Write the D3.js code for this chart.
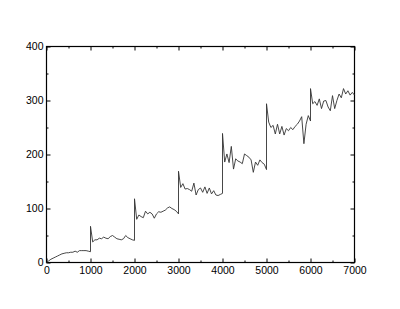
<!DOCTYPE html>
<html>
<head>
<meta charset="utf-8">
<script src="https://cdn.jsdelivr.net/npm/d3@7"></script>
<style>
  body { margin: 0; background: #fff; }
  svg { display: block; }
  .axis text { font-family: "Liberation Sans", Arial, sans-serif; font-size: 10.5px; fill: #000; }
  .axis line { stroke: #000; }
</style>
</head>
<body>
<script>
// values, one array per 1000-wide step (x = start, start+50, ..., start+1000)
var stepWidth = 50
var seg0 = [0, 3, 6, 8, 10, 12, 14, 16, 17, 18, 18, 19, 19, 21, 19, 22, 22, 22, 22, 21, 20]
var seg1 = [67, 38, 42, 42, 45, 44, 47, 45, 44, 48, 50, 47, 44, 43, 42, 44, 50, 46, 44, 42, 41]
var seg2 = [118, 80, 88, 85, 83, 95, 90, 93, 90, 82, 90, 94, 93, 95, 97, 101, 103, 100, 98, 95, 90]
var seg3 = [169, 139, 146, 136, 137, 135, 132, 147, 125, 135, 138, 130, 140, 128, 138, 127, 133, 125, 124, 126, 128]
var seg4 = [239, 186, 201, 185, 215, 173, 192, 188, 186, 183, 201, 198, 195, 190, 167, 186, 180, 190, 185, 182, 172]
var seg5 = [294, 260, 250, 254, 238, 256, 238, 252, 236, 248, 244, 250, 246, 252, 256, 262, 270, 220, 256, 272, 262]
var seg6 = [322, 294, 298, 291, 303, 285, 299, 300, 288, 281, 309, 285, 300, 312, 305, 322, 312, 318, 310, 315, 310]
var segments = [seg0, seg1, seg2, seg3, seg4, seg5, seg6]

var xTicks = [0, 1000, 2000, 3000, 4000, 5000, 6000, 7000]
var yTicks = [0, 100, 200, 300, 400]
var xMinor = [500, 1500, 2500, 3500, 4500, 5500, 6500]
var yMinor = [50, 150, 250, 350]

// flatten segments into points; the jump sits at the shared x
var points = []
segments.forEach(function(seg, k) {
  seg.forEach(function(v, i) {
    points.push({ x: k * 1000 + i * stepWidth, y: v })
  })
})

var margin = { top: 46.5, right: 45.5, bottom: 46.5, left: 46.5 },
  width = 400 - margin.left - margin.right,
  height = 309 - margin.top - margin.bottom

var svg = d3.select("body").append("svg")
  .attr("width", 400)
  .attr("height", 309)
  .append("g")
  .attr("transform", "translate(" + margin.left + "," + margin.top + ")")

var x = d3.scaleLinear().domain([0, 7000]).range([0, width])
var y = d3.scaleLinear().domain([0, 400]).range([height, 0])

// inward ticks on all four sides, major and minor
function addAxis(axisFn, scale, ticks, size, pad, labels, tr) {
  var g = svg.append("g")
    .attr("class", "axis")
    .attr("transform", tr || null)
    .call(axisFn(scale).tickValues(ticks).tickSizeInner(-size).tickSizeOuter(0)
      .tickPadding(pad).tickFormat(labels ? d3.format("d") : ""))
  g.select(".domain").remove()
  return g
}

addAxis(d3.axisBottom, x, xTicks, 4, 4.5, true, "translate(0," + height + ")")
addAxis(d3.axisBottom, x, xMinor, 2, 5, false, "translate(0," + height + ")")
addAxis(d3.axisTop, x, xTicks, 4, 5, false)
addAxis(d3.axisTop, x, xMinor, 2, 5, false)
addAxis(d3.axisLeft, y, yTicks, 4, 3, true)
addAxis(d3.axisLeft, y, yMinor, 2, 3, false)
addAxis(d3.axisRight, y, yTicks, 4, 3, false, "translate(" + width + ",0)")
addAxis(d3.axisRight, y, yMinor, 2, 3, false, "translate(" + width + ",0)")

// frame
svg.append("rect")
  .attr("width", width)
  .attr("height", height)
  .attr("fill", "none")
  .attr("stroke", "#000")
  .attr("stroke-width", 1.2)

var line = d3.line()
  .x(function(d) { return x(d.x) })
  .y(function(d) { return y(d.y) })

svg.append("path")
  .datum(points)
  .attr("fill", "none")
  .attr("stroke", "#333")
  .attr("stroke-width", 0.9)
  .attr("d", line)
</script>
</body>
</html>
